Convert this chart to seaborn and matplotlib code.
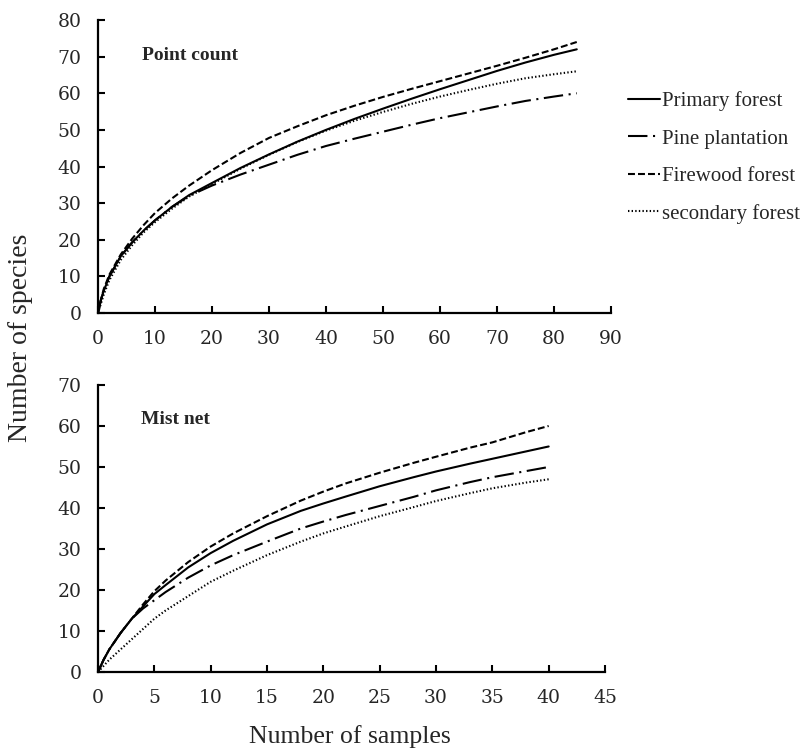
import matplotlib
matplotlib.use("Agg")
import seaborn as sns
import matplotlib.pyplot as plt

# rarefaction curves
pc_samples = [0, 0.5, 1, 2, 4, 6, 8, 10, 13, 16, 20, 25, 30, 35, 40, 45, 50, 55, 60, 65, 70, 75, 80, 84]
pc_primary = [0, 3.5, 6, 10, 15.5, 19.3, 22.5, 25.3, 29, 32.2, 35.5, 39.6, 43.3, 46.8, 50, 53, 55.8, 58.5, 61.1, 63.6, 66.1, 68.4, 70.5, 72]
pc_pine = [0, 3.5, 6, 10, 15.5, 19.3, 22.5, 25.3, 29, 32, 34.8, 37.8, 40.5, 43.2, 45.6, 47.6, 49.5, 51.4, 53.2, 54.8, 56.4, 57.9, 59.1, 60]
pc_firewood = [0, 3.5, 6.5, 10.5, 16, 20.3, 24, 27.3, 31.3, 34.8, 39, 43.7, 47.8, 51, 54, 56.6, 59, 61.2, 63.3, 65.4, 67.5, 69.7, 72, 74]
pc_secondary = [0, 2.5, 5, 9, 14.5, 18.5, 22, 24.8, 28.5, 31.8, 35.2, 39.4, 43.2, 46.7, 49.8, 52.5, 54.9, 57.1, 59.1, 60.9, 62.6, 64.1, 65.2, 66]

mn_samples = [0, 0.5, 1, 2, 3, 4, 5, 6, 8, 10, 12, 15, 18, 20, 22, 25, 28, 30, 33, 35, 38, 40]
mn_primary = [0, 3, 5.5, 9.5, 13, 16, 19, 21.2, 25.5, 29, 32, 36, 39.3, 41.1, 42.8, 45.3, 47.5, 48.9, 50.8, 52, 53.8, 55]
mn_pine = [0, 3, 5.5, 9.5, 13, 15.5, 17.5, 19.5, 23, 26, 28.5, 31.8, 35, 36.7, 38.3, 40.5, 42.7, 44.3, 46.3, 47.5, 49, 50]
mn_firewood = [0, 3, 5.5, 9.5, 13, 16.5, 19.7, 22.3, 26.8, 30.6, 33.8, 38, 41.8, 44, 46, 48.6, 51, 52.5, 54.7, 56, 58.5, 60]
mn_secondary = [0, 1.5, 3, 5.5, 8, 10.5, 13, 15, 18.5, 22, 24.7, 28.5, 31.8, 33.8, 35.5, 38, 40.2, 41.7, 43.6, 44.8, 46.2, 47]

habitats = ["Primary forest", "Pine plantation", "Firewood forest", "secondary forest"]
styles = {
    "Primary forest": "-",
    "Pine plantation": (0, (14, 4, 1.5, 4)),
    "Firewood forest": (0, (5, 2.2)),
    "secondary forest": (0, (1, 1.6)),
}

sns.set_theme(style="ticks")
plt.rcParams["font.family"] = ["Liberation Serif", "DejaVu Serif"]
plt.rcParams["lines.scale_dashes"] = False

fig = plt.figure(figsize=(8.04, 7.5), dpi=100)
ax1 = fig.add_axes([0.1219, 0.5827, 0.638, 0.3906])
ax2 = fig.add_axes([0.1219, 0.104, 0.6306, 0.3827])

panels = [
    (ax1, pc_samples, [pc_primary, pc_pine, pc_firewood, pc_secondary], "Point count", 90, 10, 80),
    (ax2, mn_samples, [mn_primary, mn_pine, mn_firewood, mn_secondary], "Mist net", 45, 5, 70),
]

for ax, xs, series, title, xmax, xstep, ymax in panels:
    for name, ys in zip(habitats, series):
        sns.lineplot(x=xs, y=ys, ax=ax, color="black", linewidth=1.5,
                     linestyle=styles[name], label=name, legend=False)
    ax.set_xlim(0, xmax)
    ax.set_ylim(0, ymax)
    ax.set_xticks(range(0, xmax + 1, xstep))
    ax.set_yticks(range(0, ymax + 1, 10))
    for side in ["top", "right"]:
        ax.spines[side].set_visible(False)
    for side in ["left", "bottom"]:
        ax.spines[side].set_linewidth(1.6)
        ax.spines[side].set_color("black")
    ax.tick_params(direction="in", length=5, width=1.5, color="black", pad=12)
    for lab in ax.get_xticklabels() + ax.get_yticklabels():
        lab.set_fontfamily("DejaVu Serif")
        lab.set_fontsize(13.5)
    ax.text(0.085, 0.88, title, transform=ax.transAxes, fontsize=14,
            fontweight="bold", ha="left", va="center")

handles, labels = ax1.get_legend_handles_labels()
fig.legend(handles, labels, loc="upper left", bbox_to_anchor=(0.781, 0.878),
           frameon=False, fontsize=15, handlelength=1.55, handletextpad=0.1,
           labelspacing=0.85, borderpad=0, borderaxespad=0)

fig.text(0.026, 0.55, "Number of species", rotation=90, ha="center", va="center", fontsize=20)
fig.text(0.435, 0.018, "Number of samples", ha="center", va="center", fontsize=18.5)

fig.savefig("out.png", dpi=100)
